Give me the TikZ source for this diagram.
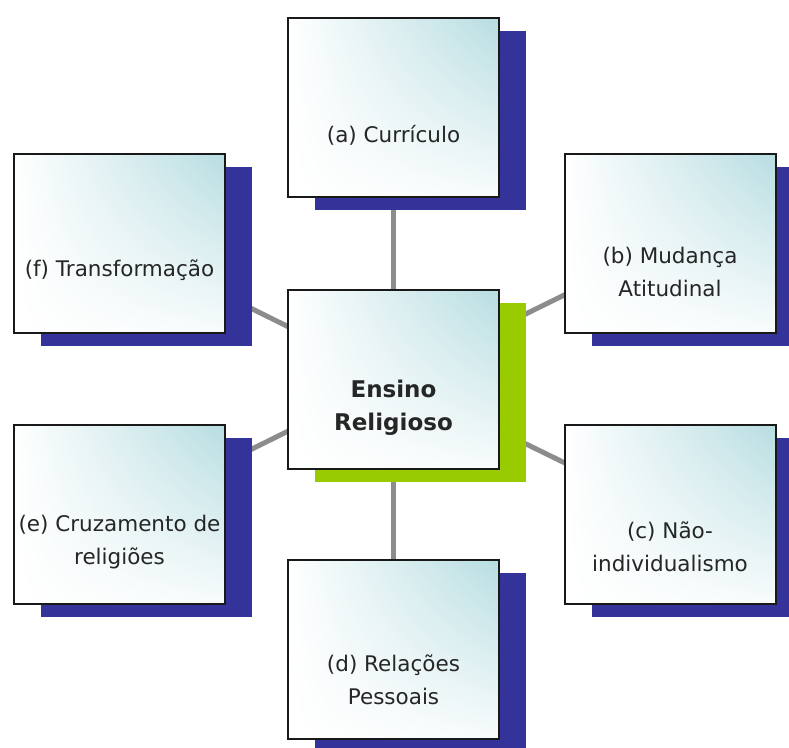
\documentclass[tikz,border=0pt]{standalone}
\usepackage{fontspec}
\setmainfont{DejaVu Sans}
\usetikzlibrary{shadows,shadings,backgrounds}
\definecolor{shadowblue}{RGB}{51,51,153}
\definecolor{shadowgreen}{RGB}{153,204,0}
\definecolor{boxteal}{RGB}{183,221,225}
\definecolor{linkgray}{RGB}{140,140,140}
\tikzset{
	topicbox/.style={draw=black!90, line width=2pt, minimum width=211pt, minimum height=179pt, inner sep=0pt,
		shade, upper left=white, upper right=boxteal, lower left=white, lower right=boxteal!10!white},
	blueshadow/.style={drop shadow={shadow xshift=27pt, shadow yshift=-13pt, fill=shadowblue, opacity=1}},
	greenshadow/.style={drop shadow={shadow xshift=27pt, shadow yshift=-13pt, fill=shadowgreen, opacity=1}},
	topictext/.style={align=center, font=\fontsize{21.5}{33}\selectfont, text=black!85, inner sep=0pt},
	link/.style={draw=linkgray, line width=5pt},
}

\begin{document}
\begin{tikzpicture}[x=1pt, y=-1pt]
		%%%%% START %%%%%
		\clip (0,0) rectangle (789,747);
		
		% centre
		\node[topicbox, greenshadow] (ctr) at (393.5, 379) {};
		\node[topictext, font=\fontsize{23}{33}\selectfont\bfseries] (ctr-txt) at ([yshift=-29pt]ctr.center) {Ensino\\Religioso};
		
		% topics
		\node[topicbox, blueshadow] (a) at (393.5, 107) {};
		\node[topictext] (a-txt) at ([yshift=-28pt]a.center) {(a) Currículo};
		
		\node[topicbox, blueshadow] (b) at (670, 243) {};
		\node[topictext] (b-txt) at ([yshift=-29pt]b.center) {(b) Mudança\\Atitudinal};
		
		\node[topicbox, blueshadow] (c) at (670, 514.5) {};
		\node[topictext] (c-txt) at ([yshift=-32pt]c.center) {(c) Não-\\individualismo};
		
		\node[topicbox, blueshadow] (d) at (393.5, 649.5) {};
		\node[topictext] (d-txt) at ([yshift=-30pt]d.center) {(d) Relações\\Pessoais};
		
		\node[topicbox, blueshadow] (e) at (119.5, 514.5) {};
		\node[topictext] (e-txt) at ([yshift=-28pt]e.center) {(e) Cruzamento de\\religiões};
		
		\node[topicbox, blueshadow] (f) at (119.5, 243) {};
		\node[topictext] (f-txt) at ([yshift=-27pt]f.center) {(f) Transformação};
		
		% links behind everything
		\begin{scope}[on background layer]
			\draw[link] (a.center) -- (ctr.center);
			\draw[link] (b.center) -- (ctr.center);
			\draw[link] (c.center) -- (ctr.center);
			\draw[link] (d.center) -- (ctr.center);
			\draw[link] (e.center) -- (ctr.center);
			\draw[link] (f.center) -- (ctr.center);
		\end{scope}
		
		%%%%% END %%%%%
\end{tikzpicture}
\end{document}
